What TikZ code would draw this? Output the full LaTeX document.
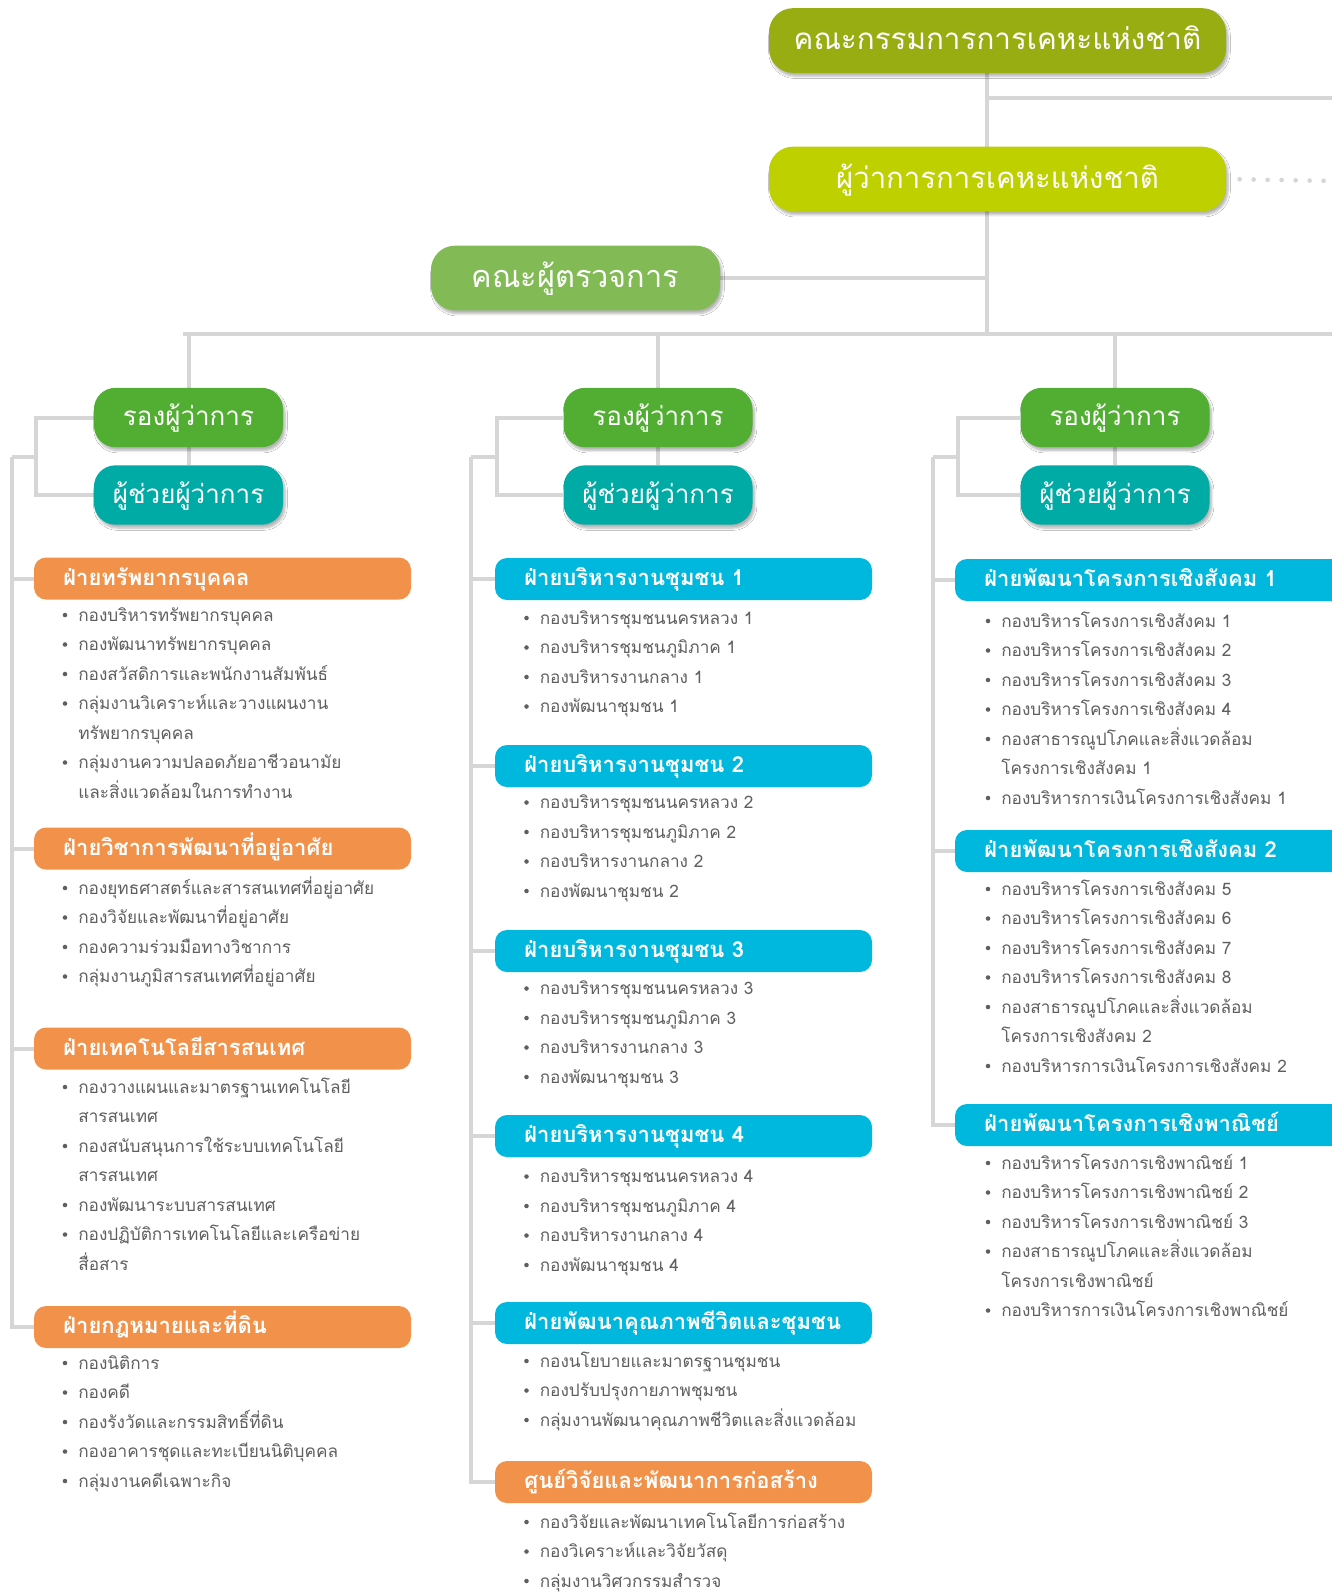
\documentclass[tikz,border=0pt]{standalone}
\usepackage{fontspec}
\newfontfamily\thai[Script=Thai]{Loma}
\usetikzlibrary{shadows.blur}
\definecolor{topgreen}{RGB}{152,173,17}
\definecolor{lime}{RGB}{190,208,0}
\definecolor{audgreen}{RGB}{130,187,85}
\definecolor{ronggreen}{RGB}{82,174,50}
\definecolor{teal}{RGB}{0,170,165}
\definecolor{orng}{RGB}{242,146,74}
\definecolor{cyn}{RGB}{0,183,221}
\definecolor{linegray}{RGB}{214,214,214}
\definecolor{itemgray}{RGB}{95,95,95}
\pgfdeclarelayer{bg}
\pgfsetlayers{bg,main}
\newcommand\itemlist[4]{%
  \foreach \bb/\tx [count=\i from 0] in {#4} {%
    \node[itm] (#1-\i) at (#2, #3+\i*29.5) {\tx};
    \ifnum\bb=1 \fill[itemgray] (#2-13, #3+\i*29.5) circle (1.7pt);\fi
  }%
}
\begin{document}
\begin{tikzpicture}[x=0.75pt,y=-0.75pt,
  conn/.style={draw=linegray, line width=3pt},
  bigbox/.style={rounded corners=18pt, inner sep=0pt, text=white,
    minimum width=342.75pt, minimum height=48.5pt,
    font=\thai\fontsize{22.2pt}{24pt}\selectfont, text height=15pt, text depth=1pt,
    blur shadow={shadow blur steps=6, shadow xshift=1.5pt, shadow yshift=-2.5pt, shadow opacity=30}},
  rongbox/.style={rounded corners=16pt, inner sep=0pt, text=white,
    minimum width=141.75pt, minimum height=44.5pt,
    font=\thai\fontsize{19.5pt}{21pt}\selectfont, text height=13pt, text depth=1pt,
    blur shadow={shadow blur steps=6, shadow xshift=1.5pt, shadow yshift=-2.5pt, shadow opacity=30}},
  divbox/.style={rounded corners=9pt, inner ysep=0pt, inner xsep=22pt, text=white,
    minimum height=31.5pt, align=left,
    font=\thai\bfseries\fontsize{16.5pt}{18pt}\selectfont, text height=11pt, text depth=1pt},
  div12/.style={divbox, text width=238.75pt},
  div3/.style={divbox, text width=248.5pt},
  itm/.style={anchor=west, inner sep=0pt, text=itemgray, text height=9.5pt, text depth=0.5pt,
    font=\thai\fontsize{12.9pt}{15pt}\selectfont}
]
\useasboundingbox (0,0) rectangle (1332,1593);

% top level
\node[bigbox, fill=topgreen] (top) at (997.5,40.5) {คณะกรรมการการเคหะแห่งชาติ};
\node[bigbox, fill=lime, font=\thai\fontsize{22pt}{24pt}\selectfont] (gov) at (997.5,179) {ผู้ว่าการการเคหะแห่งชาติ};
\node[bigbox, fill=audgreen, minimum width=216.75pt, font=\thai\fontsize{23pt}{25pt}\selectfont] (aud) at (575.5,278) {คณะผู้ตรวจการ};

% deputy / assistant boxes
\node[rongbox, fill=ronggreen] (r1) at (188.5,417.5) {รองผู้ว่าการ};
\node[rongbox, fill=teal] (a1) at (188.5,495) {ผู้ช่วยผู้ว่าการ};
\node[rongbox, fill=ronggreen] (r2) at (658,417.5) {รองผู้ว่าการ};
\node[rongbox, fill=teal] (a2) at (658,495) {ผู้ช่วยผู้ว่าการ};
\node[rongbox, fill=ronggreen] (r3) at (1115,417.5) {รองผู้ว่าการ};
\node[rongbox, fill=teal] (a3) at (1115,495) {ผู้ช่วยผู้ว่าการ};

% column 1 divisions
\node[div12, fill=orng] (d1a) at (222.5,578.5) {ฝ่ายทรัพยากรบุคคล};
\node[div12, fill=orng] (d1b) at (222.5,848.5) {ฝ่ายวิชาการพัฒนาที่อยู่อาศัย};
\node[div12, fill=orng] (d1c) at (222.5,1048.5) {ฝ่ายเทคโนโลยีสารสนเทศ};
\node[div12, fill=orng] (d1d) at (222.5,1327) {ฝ่ายกฎหมายและที่ดิน};
% column 2 divisions
\node[div12, fill=cyn] (d2a) at (683.5,579) {ฝ่ายบริหารงานชุมชน 1};
\node[div12, fill=cyn] (d2b) at (683.5,766) {ฝ่ายบริหารงานชุมชน 2};
\node[div12, fill=cyn] (d2c) at (683.5,951) {ฝ่ายบริหารงานชุมชน 3};
\node[div12, fill=cyn] (d2d) at (683.5,1136) {ฝ่ายบริหารงานชุมชน 4};
\node[div12, fill=cyn] (d2e) at (683.5,1323) {ฝ่ายพัฒนาคุณภาพชีวิตและชุมชน};
\node[div12, fill=orng] (d2f) at (683.5,1482) {ศูนย์วิจัยและพัฒนาการก่อสร้าง};
% column 3 divisions
\node[div3, fill=cyn] (d3a) at (1150,580) {ฝ่ายพัฒนาโครงการเชิงสังคม 1};
\node[div3, fill=cyn] (d3b) at (1150,851) {ฝ่ายพัฒนาโครงการเชิงสังคม 2};
\node[div3, fill=cyn] (d3c) at (1150,1125) {ฝ่ายพัฒนาโครงการเชิงพาณิชย์};

% item lists
\itemlist{i1a}{78}{615}{1/กองบริหารทรัพยากรบุคคล, 1/กองพัฒนาทรัพยากรบุคคล, 1/กองสวัสดิการและพนักงานสัมพันธ์, 1/กลุ่มงานวิเคราะห์และวางแผนงาน, 0/ทรัพยากรบุคคล, 1/กลุ่มงานความปลอดภัยอาชีวอนามัย, 0/และสิ่งแวดล้อมในการทำงาน}
\itemlist{i1b}{78}{888}{1/กองยุทธศาสตร์และสารสนเทศที่อยู่อาศัย, 1/กองวิจัยและพัฒนาที่อยู่อาศัย, 1/กองความร่วมมือทางวิชาการ, 1/กลุ่มงานภูมิสารสนเทศที่อยู่อาศัย}
\itemlist{i1c}{78}{1087}{1/กองวางแผนและมาตรฐานเทคโนโลยี, 0/สารสนเทศ, 1/กองสนับสนุนการใช้ระบบเทคโนโลยี, 0/สารสนเทศ, 1/กองพัฒนาระบบสารสนเทศ, 1/กองปฏิบัติการเทคโนโลยีและเครือข่าย, 0/สื่อสาร}
\itemlist{i1d}{78}{1363}{1/กองนิติการ, 1/กองคดี, 1/กองรังวัดและกรรมสิทธิ์ที่ดิน, 1/กองอาคารชุดและทะเบียนนิติบุคคล, 1/กลุ่มงานคดีเฉพาะกิจ}

\itemlist{i2a}{539.5}{618}{1/กองบริหารชุมชนนครหลวง 1, 1/กองบริหารชุมชนภูมิภาค 1, 1/กองบริหารงานกลาง 1, 1/กองพัฒนาชุมชน 1}
\itemlist{i2b}{539.5}{802.5}{1/กองบริหารชุมชนนครหลวง 2, 1/กองบริหารชุมชนภูมิภาค 2, 1/กองบริหารงานกลาง 2, 1/กองพัฒนาชุมชน 2}
\itemlist{i2c}{539.5}{988.5}{1/กองบริหารชุมชนนครหลวง 3, 1/กองบริหารชุมชนภูมิภาค 3, 1/กองบริหารงานกลาง 3, 1/กองพัฒนาชุมชน 3}
\itemlist{i2d}{539.5}{1176.5}{1/กองบริหารชุมชนนครหลวง 4, 1/กองบริหารชุมชนภูมิภาค 4, 1/กองบริหารงานกลาง 4, 1/กองพัฒนาชุมชน 4}
\itemlist{i2e}{539.5}{1361}{1/กองนโยบายและมาตรฐานชุมชน, 1/กองปรับปรุงกายภาพชุมชน, 1/กลุ่มงานพัฒนาคุณภาพชีวิตและสิ่งแวดล้อม}
\itemlist{i2f}{539.5}{1522}{1/กองวิจัยและพัฒนาเทคโนโลยีการก่อสร้าง, 1/กองวิเคราะห์และวิจัยวัสดุ, 1/กลุ่มงานวิศวกรรมสำรวจ}

\itemlist{i3a}{1001}{621}{1/กองบริหารโครงการเชิงสังคม 1, 1/กองบริหารโครงการเชิงสังคม 2, 1/กองบริหารโครงการเชิงสังคม 3, 1/กองบริหารโครงการเชิงสังคม 4, 1/กองสาธารณูปโภคและสิ่งแวดล้อม, 0/โครงการเชิงสังคม 1, 1/กองบริหารการเงินโครงการเชิงสังคม 1}
\itemlist{i3b}{1001}{889}{1/กองบริหารโครงการเชิงสังคม 5, 1/กองบริหารโครงการเชิงสังคม 6, 1/กองบริหารโครงการเชิงสังคม 7, 1/กองบริหารโครงการเชิงสังคม 8, 1/กองสาธารณูปโภคและสิ่งแวดล้อม, 0/โครงการเชิงสังคม 2, 1/กองบริหารการเงินโครงการเชิงสังคม 2}
\itemlist{i3c}{1001}{1163}{1/กองบริหารโครงการเชิงพาณิชย์ 1, 1/กองบริหารโครงการเชิงพาณิชย์ 2, 1/กองบริหารโครงการเชิงพาณิชย์ 3, 1/กองสาธารณูปโภคและสิ่งแวดล้อม, 0/โครงการเชิงพาณิชย์, 1/กองบริหารการเงินโครงการเชิงพาณิชย์}

% junction coordinates
\coordinate (tx) at (987,334);
\coordinate (hl) at (183,334);
\coordinate (hr) at (1332,334);
\coordinate (ra) at (1332,97.5);
\coordinate (dotend) at (1332,181);
\coordinate (b1) at (36,457);  \coordinate (o1) at (12,457);
\coordinate (b2) at (497,457); \coordinate (o2) at (471,457);
\coordinate (b3) at (958,457); \coordinate (o3) at (933,457);

\begin{pgfonlayer}{bg}
  \fill[white] (0,0) rectangle (1332,1593);
  \draw[conn] (tx |- top.south) -- (tx);
  \draw[conn] (ra -| tx) -- (ra);
  \draw[conn] (aud.east) -- (aud.east -| tx);
  \draw[conn] (hl) -- (hr);
  \draw[draw=linegray, line width=3.5pt, line cap=round, dash pattern=on 0pt off 10.5pt, shorten <=10pt] (gov.east) -- (dotend);
  \foreach \c in {1,2,3} {
    \draw[conn] (r\c |- hl) -- (a\c.north);
    \draw[conn] (r\c.west) -- (r\c.west -| b\c) -- (a\c.west -| b\c) -- (a\c.west);
    \draw[conn] (b\c) -- (o\c);
  }
  \draw[conn] (o1) -- (o1 |- d1d.west) -- (d1d.west);
  \foreach \d in {a,b,c} \draw[conn] (o1 |- d1\d.west) -- (d1\d.west);
  \draw[conn] (o2) -- (o2 |- d2f.west) -- (d2f.west);
  \foreach \d in {a,b,c,d,e} \draw[conn] (o2 |- d2\d.west) -- (d2\d.west);
  \draw[conn] (o3) -- (o3 |- d3c.west) -- (d3c.west);
  \foreach \d in {a,b} \draw[conn] (o3 |- d3\d.west) -- (d3\d.west);
\end{pgfonlayer}
\end{tikzpicture}
\end{document}
